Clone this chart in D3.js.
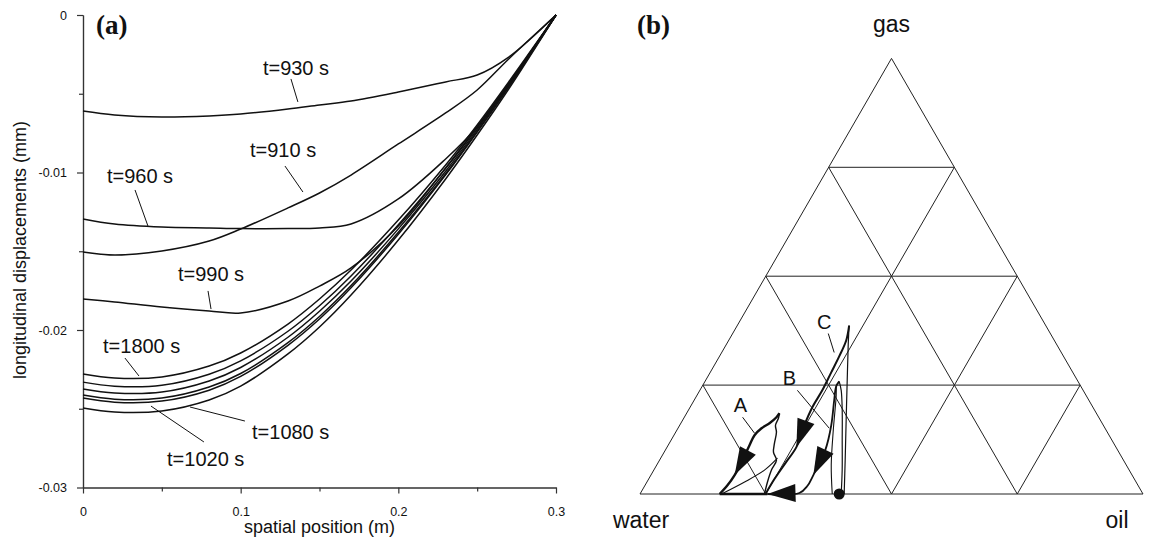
<!DOCTYPE html>
<html>
<head>
<meta charset="utf-8">
<script src="https://cdn.jsdelivr.net/npm/d3@7"></script>
<style>
body { margin: 0; background: #fff; }
text { font-family: "Liberation Sans", Arial, sans-serif; fill: #111; }
</style>
</head>
<body>
<svg id="chart" width="1167" height="542"></svg>
<script>
// ---- panel (a): longitudinal displacement profiles ----
var posX = [0, 0.02, 0.05, 0.08, 0.1, 0.13, 0.15, 0.17, 0.2, 0.23, 0.25, 0.27, 0.3];
var t930  = [-0.00610, -0.00635, -0.00648, -0.00641, -0.00629, -0.00597, -0.00571, -0.00546, -0.00489, -0.00425, -0.00381, -0.00267, 0];
var t910  = [-0.01505, -0.01524, -0.01498, -0.01435, -0.01359, -0.01225, -0.01130, -0.01016, -0.00819, -0.00622, -0.00476, -0.00279, 0];
var t960  = [-0.01295, -0.01327, -0.01346, -0.01352, -0.01356, -0.01356, -0.01352, -0.01327, -0.01168, -0.00914, -0.00711, -0.00438, 0];
var t990  = [-0.01803, -0.01822, -0.01854, -0.01879, -0.01892, -0.01816, -0.01721, -0.01606, -0.01340, -0.00971, -0.00711, -0.00438, 0];
var t1800 = [-0.02279, -0.02305, -0.02298, -0.02229, -0.02146, -0.01962, -0.01803, -0.01619, -0.01302, -0.00952, -0.00698, -0.00425, 0];
var c2    = [-0.02331, -0.02357, -0.02351, -0.02281, -0.02196, -0.02008, -0.01846, -0.01657, -0.01332, -0.00974, -0.00714, -0.00436, 0];
var c3    = [-0.02375, -0.02400, -0.02394, -0.02324, -0.02238, -0.02046, -0.01881, -0.01689, -0.01358, -0.00992, -0.00726, -0.00445, 0];
var c4    = [-0.02413, -0.02439, -0.02432, -0.02362, -0.02276, -0.02080, -0.01914, -0.01718, -0.01380, -0.01008, -0.00738, -0.00453, 0];
var t1020 = [-0.02432, -0.02458, -0.02451, -0.02382, -0.02295, -0.02097, -0.01930, -0.01732, -0.01392, -0.01015, -0.00743, -0.00457, 0];
var t1080 = [-0.02495, -0.02521, -0.02514, -0.02444, -0.02356, -0.02152, -0.01981, -0.01778, -0.01429, -0.01041, -0.00762, -0.00470, 0];
var profiles = [t930, t910, t960, t990, t1800, c2, c3, c4, t1020, t1080];

var xTicks = [0, 0.1, 0.2, 0.3];
var xMinor = [0.05, 0.15, 0.25];
var yTicks = [0, -0.01, -0.02, -0.03];
var yMinor = [-0.005, -0.015, -0.025];

// label text, anchor [x, y], leader from [x, y] to [x, y]
var curveLabels = [
  ["t=930 s",  [0.1141, -0.00381], [0.1319, -0.00406], [0.1363, -0.00552]],
  ["t=910 s",  [0.1059, -0.00902], [0.1281, -0.00959], [0.1395, -0.01124]],
  ["t=960 s",  [0.0152, -0.01067], [0.0330, -0.01111], [0.0412, -0.01340]],
  ["t=990 s",  [0.0602, -0.01689], [0.0793, -0.01752], [0.0812, -0.01867]],
  ["t=1800 s", [0.0127, -0.02146], [0.0266, -0.02178], [0.0355, -0.02292]],
  ["t=1080 s", [0.1072, -0.02692], [0.1027, -0.02578], [0.0679, -0.02489]],
  ["t=1020 s", [0.0533, -0.02863], [0.0767, -0.02711], [0.0431, -0.02483]]
];

// ---- panel (b): ternary paths, points are [oil, gas] fractions ----
var aRise = [[0.2475,0],[0.2397,0.0275],[0.2339,0.0549],[0.2324,0.0778],[0.2173,0.0961],[0.2090,0.1167],[0.2003,0.1419],[0.1904,0.1579],[0.1883,0.1739],[0.1845,0.1854]];
var aFall = [[0.1845,0.1854],[0.1832,0.1762],[0.1762,0.1625],[0.1661,0.1510],[0.1602,0.1350],[0.1617,0.1121],[0.1654,0.0732],[0.1664,0.0435],[0.1640,0.0206],[0.1584,0]];
var aStrand = [[0.1620,0],[0.1942,0.0275],[0.2200,0.0549],[0.2321,0.0824]];
var bRise = [[0.4000,0],[0.3745,0.0549],[0.3402,0.1236],[0.3059,0.1922],[0.2810,0.2380],[0.2667,0.2586]];
var bLoop = [[0.3822,0],[0.3470,0.0664],[0.3110,0.1465],[0.2771,0.2259],[0.2665,0.2471]];
var bFall = [[0.2667,0.2586],[0.2665,0.2471],[0.2785,0.2151],[0.3013,0.1579],[0.3180,0.1007],[0.3229,0.0435],[0.3235,0.0183],[0.3157,0.0023],[0.2535,0]];
var cRise = [[0.4059,0],[0.3690,0.0778],[0.3252,0.1693],[0.2815,0.2609],[0.2434,0.3410],[0.2224,0.3867]];
var cFall = [[0.2224,0.3867],[0.2337,0.3524],[0.2381,0.3158],[0.2406,0.2792],[0.2434,0.2380],[0.2431,0.1991],[0.2478,0.1579],[0.2571,0.1076],[0.2536,0.0709],[0.2501,0.0343],[0.2495,0]];
var bottomRun = [[0.1584,0],[0.2535,0]];
var startPoint = [0.396, 0];
var gridSteps = [0.25, 0.5, 0.75];

// arrow heads: path, index of tip point
var arrowTips = [[aFall, 7], [bFall, 5], [bFall, 8], [cFall, 7]];

var pathLabels = [
  ["A", [0.1058, 0.1876], [0.1159, 0.1762], [0.1579, 0.1396]],
  ["B", [0.1723, 0.2494], [0.1939, 0.2380], [0.3007, 0.1510]],
  ["C", [0.1764, 0.3799], [0.1901, 0.3684], [0.2236, 0.3249]]
];

var svg = d3.select("#chart");

// ===== panel (a) =====
var x = d3.scaleLinear().domain([0, 0.3]).range([83, 556]);
var y = d3.scaleLinear().domain([-0.03, 0]).range([487.5, 15]);

var gA = svg.append("g");

gA.append("g").attr("transform", "translate(0,487.5)")
  .call(d3.axisBottom(x).tickValues(xTicks).tickSize(6).tickSizeOuter(0).tickPadding(14).tickFormat(String));
gA.append("g").attr("transform", "translate(0,487.5)")
  .call(d3.axisBottom(x).tickValues(xMinor).tickSize(4).tickSizeOuter(0).tickFormat(""));
gA.append("g").attr("transform", "translate(83,0)")
  .call(d3.axisLeft(y).tickValues(yTicks).tickSize(6).tickSizeOuter(0).tickPadding(10).tickFormat(String));
gA.append("g").attr("transform", "translate(83,0)")
  .call(d3.axisLeft(y).tickValues(yMinor).tickSize(4).tickSizeOuter(0).tickFormat(""));

gA.selectAll(".domain, .tick line").attr("stroke", "#333").attr("stroke-width", 1.2);
gA.selectAll(".tick text").style("font-size", "12.5px").attr("fill", "#222");

var line = d3.line()
  .x(function(d) { return x(d[0]); })
  .y(function(d) { return y(d[1]); })
  .curve(d3.curveCatmullRom.alpha(0.5));

gA.selectAll("path.profile")
  .data(profiles)
  .enter().append("path")
  .attr("class", "profile")
  .attr("fill", "none")
  .attr("stroke", "#111")
  .attr("stroke-width", 1.5)
  .attr("d", function(vals) { return line(posX.map(function(px, i) { return [px, vals[i]]; })); });

gA.selectAll("line.leader")
  .data(curveLabels)
  .enter().append("line")
  .attr("class", "leader")
  .attr("stroke", "#111").attr("stroke-width", 1)
  .attr("x1", function(d) { return x(d[2][0]); })
  .attr("y1", function(d) { return y(d[2][1]); })
  .attr("x2", function(d) { return x(d[3][0]); })
  .attr("y2", function(d) { return y(d[3][1]); });

gA.selectAll("text.clabel")
  .data(curveLabels)
  .enter().append("text")
  .attr("class", "clabel")
  .attr("x", function(d) { return x(d[1][0]); })
  .attr("y", function(d) { return y(d[1][1]); })
  .style("font-size", "20px")
  .text(function(d) { return d[0]; });

gA.append("text")
  .attr("x", x(0.15)).attr("y", 533)
  .style("text-anchor", "middle").style("font-size", "18px")
  .text("spatial position (m)");
gA.append("text")
  .attr("transform", "translate(26,250) rotate(-90)")
  .style("text-anchor", "middle").style("font-size", "18px")
  .text("longitudinal displacements (mm)");
gA.append("text")
  .attr("x", 96).attr("y", 34)
  .style("font-family", "'Liberation Serif', 'Times New Roman', serif")
  .style("font-weight", "bold").style("font-size", "27px")
  .text("(a)");

// ===== panel (b) =====
var triX = d3.scaleLinear().domain([0, 1]).range([640, 1143]);
var triY = d3.scaleLinear().domain([0, 1]).range([494, 58.4]);
function proj(p) { return [triX(p[0] + p[1] / 2), triY(p[1])]; }

var gB = svg.append("g");

// outline and grid: segments in [oil, gas]
var segs = [[[0, 0], [1, 0]], [[1, 0], [0, 1]], [[0, 1], [0, 0]]];
gridSteps.forEach(function(k) {
  segs.push([[0, k], [1 - k, k]]);       // constant gas
  segs.push([[k, 0], [k, 1 - k]]);       // constant oil
  segs.push([[1 - k, 0], [0, 1 - k]]);   // constant water
});
gB.selectAll("line.grid")
  .data(segs)
  .enter().append("line")
  .attr("class", "grid")
  .attr("stroke", "#222").attr("stroke-width", 1)
  .attr("x1", function(d) { return proj(d[0])[0]; })
  .attr("y1", function(d) { return proj(d[0])[1]; })
  .attr("x2", function(d) { return proj(d[1])[0]; })
  .attr("y2", function(d) { return proj(d[1])[1]; });

var tline = d3.line()
  .x(function(d) { return proj(d)[0]; })
  .y(function(d) { return proj(d)[1]; })
  .curve(d3.curveCatmullRom.alpha(0.5));

var tracks = [
  [aStrand, 1.1], [bLoop, 1.1], [bRise, 1.2], [cRise, 1.2], [aRise, 1.4],
  [aFall, 2.4], [bFall, 1.8], [cFall, 2], [bottomRun, 2.4]
];
gB.selectAll("path.track")
  .data(tracks)
  .enter().append("path")
  .attr("class", "track")
  .attr("fill", "none")
  .attr("stroke", "#111")
  .attr("stroke-width", function(d) { return d[1]; })
  .attr("d", function(d) { return tline(d[0]); });

gB.selectAll("path.arrow")
  .data(arrowTips)
  .enter().append("path")
  .attr("class", "arrow")
  .attr("fill", "#111")
  .attr("d", function(d) {
    var pts = d[0], i = d[1];
    var tip = proj(pts[i]), prev = proj(pts[i - 1]);
    var dx = tip[0] - prev[0], dy = tip[1] - prev[1];
    var len = Math.sqrt(dx * dx + dy * dy);
    var ux = dx / len, uy = dy / len;
    var L = 28, W = 9;
    var bx = tip[0] - ux * L, by = tip[1] - uy * L;
    return "M" + tip[0] + "," + tip[1] +
      "L" + (bx - uy * W) + "," + (by + ux * W) +
      "L" + (bx + uy * W) + "," + (by - ux * W) + "Z";
  });

gB.append("circle")
  .attr("cx", proj(startPoint)[0]).attr("cy", proj(startPoint)[1])
  .attr("r", 5.5).attr("fill", "#111");

gB.selectAll("line.pleader")
  .data(pathLabels)
  .enter().append("line")
  .attr("class", "pleader")
  .attr("stroke", "#111").attr("stroke-width", 1)
  .attr("x1", function(d) { return proj(d[2])[0]; })
  .attr("y1", function(d) { return proj(d[2])[1]; })
  .attr("x2", function(d) { return proj(d[3])[0]; })
  .attr("y2", function(d) { return proj(d[3])[1]; });

gB.selectAll("text.plabel")
  .data(pathLabels)
  .enter().append("text")
  .attr("class", "plabel")
  .attr("x", function(d) { return proj(d[1])[0]; })
  .attr("y", function(d) { return proj(d[1])[1]; })
  .style("text-anchor", "middle").style("font-size", "20px")
  .text(function(d) { return d[0]; });

var corners = [["gas", [0, 1], 0, -26], ["water", [0, 0], 1, 34], ["oil", [1, 0], -26, 34]];
gB.selectAll("text.corner")
  .data(corners)
  .enter().append("text")
  .attr("class", "corner")
  .attr("x", function(d) { return proj(d[1])[0] + d[2]; })
  .attr("y", function(d) { return proj(d[1])[1] + d[3]; })
  .style("text-anchor", "middle").style("font-size", "23px")
  .text(function(d) { return d[0]; });

gB.append("text")
  .attr("x", 637).attr("y", 34)
  .style("font-family", "'Liberation Serif', 'Times New Roman', serif")
  .style("font-weight", "bold").style("font-size", "27px")
  .text("(b)");
</script>
</body>
</html>
